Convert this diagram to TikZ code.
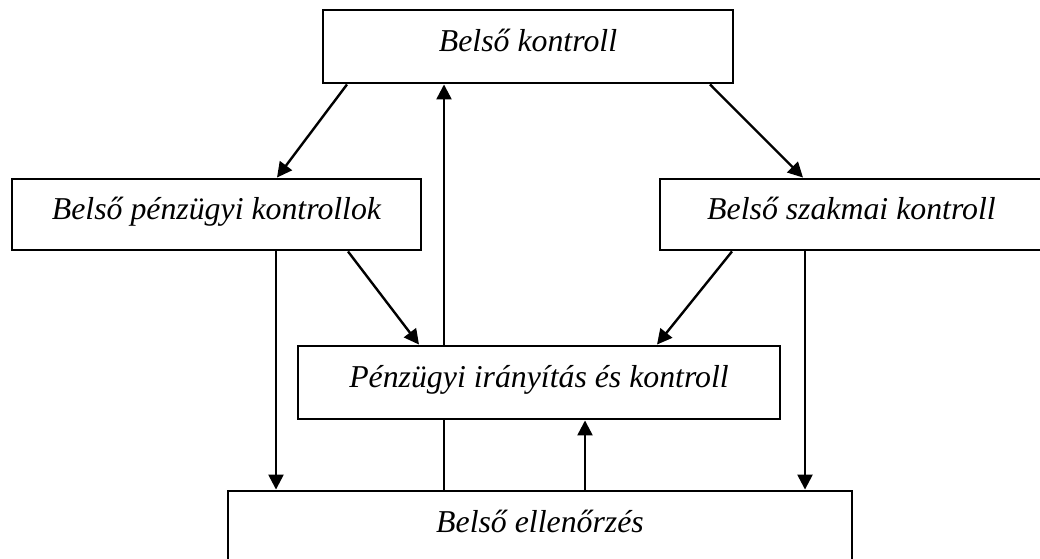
\documentclass[tikz,border=0pt]{standalone}
\usepackage{fontspec}
\setmainfont{Liberation Serif}
\usetikzlibrary{arrows.meta}
\tikzset{
  box/.style={draw=black, line width=2.9pt, fill=white, inner sep=0pt,
    font=\fontsize{31.8}{38}\selectfont\itshape, text height=20pt, text depth=10pt},
  arr/.style={line width=2.4pt, -{Triangle[length=15pt,width=15pt]}},
  ln/.style={line width=2.4pt}
}
\begin{document}
\begin{tikzpicture}[x=1pt,y=-1pt]
\useasboundingbox (0,0) rectangle (1040,558);
\clip (0,0) rectangle (1040,558);
\node[box, minimum width=410pt, minimum height=73pt] (top) at (528,46.5) {Belső kontroll};
\node[box, minimum width=409pt, minimum height=71pt] (lbox) at (216.5,214.5) {Belső pénzügyi kontrollok};
\node[box, minimum width=383pt, minimum height=71pt] (rbox) at (851.5,214.5) {Belső szakmai kontroll};
\node[box, minimum width=482pt, minimum height=73pt] (mid) at (539,382.5) {Pénzügyi irányítás és kontroll};
\node[box, minimum width=624pt, minimum height=73pt] (bot) at (540,527.5) {Belső ellenőrzés};
\draw[arr] ([xshift=-181pt]top.south) -- ([xshift=60.5pt]lbox.north);
\draw[arr] ([xshift=182pt]top.south) -- ([xshift=-48.5pt]rbox.north);
\draw[arr] ([xshift=131.5pt]lbox.south) -- ([xshift=-120pt]mid.north);
\draw[arr] ([xshift=-119.5pt]rbox.south) -- ([xshift=118pt]mid.north);
\draw[arr] ([xshift=59.5pt]lbox.south) -- ([xshift=-264pt]bot.north);
\draw[arr] ([xshift=-46.5pt]rbox.south) -- ([xshift=265pt]bot.north);
\draw[arr] ([xshift=45pt]bot.north) -- ([xshift=46pt]mid.south);
\draw[ln] ([xshift=-96pt]bot.north) -- ([xshift=-95pt]mid.south);
\draw[arr] ([xshift=-95pt]mid.north) -- ([xshift=-84pt]top.south);
\end{tikzpicture}
\end{document}
